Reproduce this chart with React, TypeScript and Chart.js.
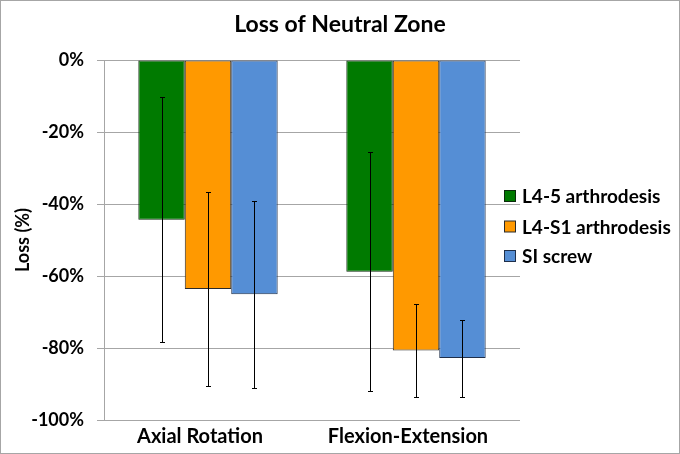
import React, { useEffect, useRef } from "react";
import { Chart, registerables } from "chart.js";

Chart.register(...registerables);

const titleText = "Loss of Neutral Zone";
const yTitleText = "Loss (%)";
const categories = ["Axial Rotation", "Flexion-Extension"];
const seriesNames = ["L4-5 arthrodesis", "L4-S1 arthrodesis", "SI screw"];
const l45Values = [-44.4, -58.8];
const l45Errors = [34.0, 33.2];
const l4s1Values = [-63.6, -80.7];
const l4s1Errors = [27.0, 13.0];
const siValues = [-65.1, -82.8];
const siErrors = [26.0, 10.7];
const yTicks = [0, -20, -40, -60, -80, -100];

const colors = ["#007A00", "#FF9900", "#558ED5"];
const borders = ["#0b2a0b", "#2a2a2a", "#1f2f4a"];
const FONT = "Lato, 'Open Sans', sans-serif";

export default function App() {
  const ref = useRef<HTMLCanvasElement | null>(null);
  useEffect(() => {
    const canvas = ref.current;
    if (!canvas) return;
    const errs = [l45Errors, l4s1Errors, siErrors];

    const errorBars = {
      id: "errorBars",
      afterDatasetsDraw(chart: any) {
        const ctx = chart.ctx;
        const y = chart.scales.y;
        ctx.save();
        ctx.strokeStyle = "#000";
        ctx.lineWidth = 1;
        chart.data.datasets.forEach((ds: any, di: number) => {
          const meta = chart.getDatasetMeta(di);
          meta.data.forEach((bar: any, i: number) => {
            const v = ds.data[i];
            const e = errs[di][i];
            const x = Math.round(bar.x) + 0.5;
            const y1 = Math.round(y.getPixelForValue(v + e)) + 0.5;
            const y2 = Math.round(y.getPixelForValue(v - e)) + 0.5;
            ctx.beginPath();
            ctx.moveTo(x, y1);
            ctx.lineTo(x, y2);
            ctx.moveTo(x - 2.5, y1);
            ctx.lineTo(x + 2.5, y1);
            ctx.moveTo(x - 2.5, y2);
            ctx.lineTo(x + 2.5, y2);
            ctx.stroke();
          });
        });
        ctx.restore();
      },
    };

    const frame = {
      id: "frame",
      beforeDraw(chart: any) {
        const ctx = chart.ctx;
        ctx.save();
        ctx.fillStyle = "#fff";
        ctx.fillRect(0, 0, chart.width, chart.height);
        ctx.restore();
      },
      afterDraw(chart: any) {
        const ctx = chart.ctx;
        ctx.save();
        ctx.strokeStyle = "#a6a6a6";
        ctx.lineWidth = 1;
        ctx.strokeRect(0.5, 0.5, chart.width - 1, chart.height - 1);
        // title
        ctx.fillStyle = "#000";
        ctx.font = `bold 23px ${FONT}`;
        ctx.textAlign = "center";
        ctx.textBaseline = "middle";
        ctx.fillText(titleText, 340, 25);
        // legend
        const rows = [196, 226.5, 256];
        ctx.font = `bold 19px ${FONT}`;
        ctx.textBaseline = "middle";
        ctx.textAlign = "left";
        chart.data.datasets.forEach((ds: any, i: number) => {
          const cy = rows[i];
          ctx.fillStyle = ds.backgroundColor;
          ctx.fillRect(504.5, cy - 5.5, 11, 11);
          ctx.strokeStyle = ds.borderColor;
          ctx.strokeRect(504.5, cy - 5.5, 11, 11);
          ctx.fillStyle = "#000";
          ctx.fillText(ds.label, 522, cy + 1);
        });
        ctx.restore();
      },
    };

    const chart = new Chart(canvas, {
      type: "bar",
      data: {
        labels: categories,
        datasets: [l45Values, l4s1Values, siValues].map((d, i) => ({
          label: seriesNames[i],
          data: d,
          backgroundColor: colors[i],
          borderColor: borders[i],
          borderWidth: 1,
          borderSkipped: false,
          categoryPercentage: 0.67,
          barPercentage: 1,
        })),
      },
      options: {
        responsive: false,
        animation: false,
        devicePixelRatio: 1,
        layout: { padding: { left: 0, right: 160, top: 60, bottom: 0 } },
        plugins: {
          legend: { display: false },
          tooltip: { enabled: false },
          title: { display: false },
        },
        scales: {
          x: {
            grid: { display: false, drawTicks: false },
            border: { display: false },
            ticks: {
              color: "#000",
              font: { family: FONT, size: 20, weight: "bold" },
              padding: 5,
              labelOffset: -8,
              maxRotation: 0,
            },
            afterFit(scale: any) {
              scale.height = 34;
            },
          },
          y: {
            min: -100,
            max: 0,
            afterBuildTicks(scale: any) {
              scale.ticks = yTicks.map((v) => ({ value: v }));
            },
            grid: { color: "#a6a6a6", tickLength: 7, lineWidth: 1 },
            border: { display: true, color: "#a6a6a6" },
            ticks: {
              color: "#000",
              font: { family: FONT, size: 18, weight: "bold" },
              padding: 13,
              callback: (v: any) => `${v}%`,
            },
            title: {
              display: true,
              text: yTitleText,
              color: "#000",
              font: { family: FONT, size: 18, weight: "bold" },
              padding: { top: 12, bottom: 0 },
            },
            afterFit(scale: any) {
              scale.width = 104;
            },
          },
        },
      },
      plugins: [errorBars, frame],
    } as any);
    return () => chart.destroy();
  }, []);
  return (
    <canvas
      ref={ref}
      width={680}
      height={454}
      style={{ position: "absolute", left: 0, top: 0, width: 680, height: 454 }}
    />
  );
}
